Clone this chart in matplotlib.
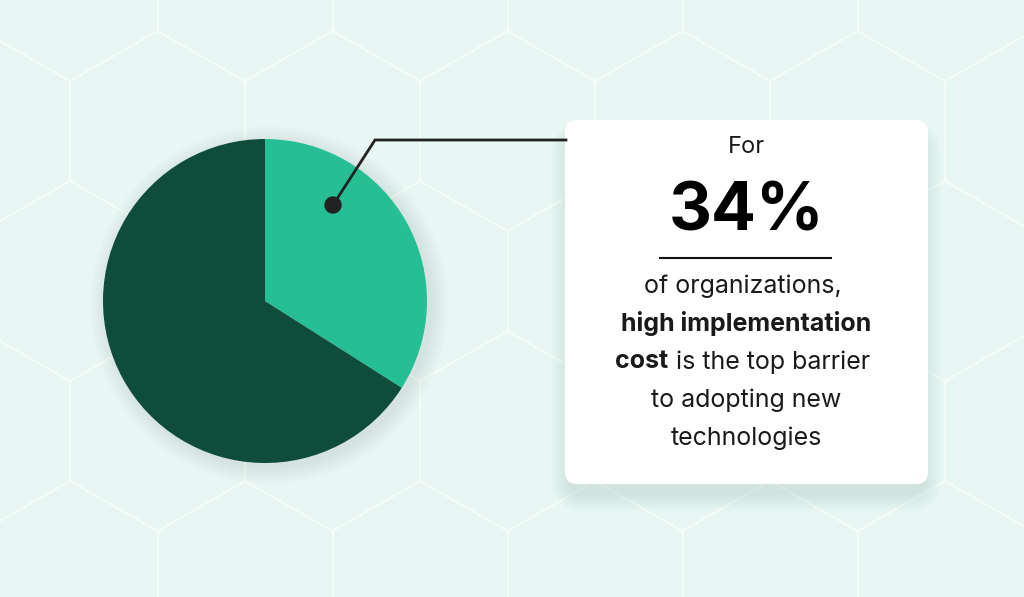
import numpy as np
import matplotlib
matplotlib.use("Agg")
import matplotlib.pyplot as plt
from matplotlib.patches import FancyBboxPatch, Circle
from matplotlib.collections import LineCollection

W, H = 1024, 597

# data
slice_labels = ["high implementation cost", "other barriers"]
slice_shares = [34, 66]
slice_colors = ["#26BF93", "#0F4C3A"]
headline = "34%"

BG = "#E8F7F3"
HEX_LINE = "#F4FCFA"
FONT = ["Inter", "DejaVu Sans"]


def py(y):
    # pixel row measured from the top -> data y
    return H - y


fig = plt.figure(figsize=(W / 100, H / 100), dpi=100)
fig.patch.set_facecolor(BG)
ax = fig.add_axes([0, 0, 1, 1])
ax.set_xlim(0, W)
ax.set_ylim(0, H)
ax.axis("off")

# hexagon background grid (pointy top, side 100)
s = 100.0
dx = 175.0
segs = []
for row in range(-1, 6):
    top = -69 + row * 150
    x0 = 157.5 if row % 2 == 0 else 70.0
    for k in range(-2, 8):
        x = x0 + k * dx
        segs.append([(x, py(top)), (x, py(top + s))])
        segs.append([(x, py(top + s)), (x + dx / 2, py(top + s + 50))])
        segs.append([(x, py(top + s)), (x - dx / 2, py(top + s + 50))])
ax.add_collection(LineCollection(segs, colors=HEX_LINE, linewidths=1.6, zorder=0))

# soft glow behind the pie
cx, cy, r = 265, 301, 162
for i in range(10):
    ax.add_patch(Circle((cx + 4, py(cy) - 4), r + 1 + i * 1.8, color="#7a9a92",
                        alpha=0.014, lw=0, zorder=1))

ax.pie(slice_shares, colors=slice_colors, startangle=90, counterclock=False,
       center=(cx, py(cy)), radius=r, frame=True,
       wedgeprops=dict(linewidth=0))
ax.set_xlim(0, W)
ax.set_ylim(0, H)
ax.set_aspect("auto")
ax.axis("off")

# connector line with dot
ax.plot([333, 375, 566], [py(205), py(140), py(140)], color="#222222", lw=2,
        solid_joinstyle="miter", zorder=5)
ax.add_patch(Circle((333, py(205)), 8, color="#222222", zorder=6))

# card with shadow
bx0, by0, bx1, by1 = 565, 120, 928, 484
for i in range(10):
    grow = 1 + i * 1.8
    ax.add_patch(FancyBboxPatch((bx0 - grow + 4, py(by1) - grow - 10),
                                bx1 - bx0 + 2 * grow - 8, by1 - by0 + 2 * grow - 10,
                                boxstyle="round,pad=0,rounding_size=%f" % (14 + grow),
                                fc="#5f7d76", ec="none", alpha=0.017, zorder=3))
ax.add_patch(FancyBboxPatch((bx0, py(by1)), bx1 - bx0, by1 - by0,
                            boxstyle="round,pad=0,rounding_size=12",
                            fc="white", ec="none", zorder=4))

tx = (bx0 + bx1) / 2
ax.text(tx, py(147), "For", ha="center", va="center", fontsize=17,
        family=FONT, color="#1a1a1a", zorder=7)
ax.text(tx, py(213), headline, ha="center", va="center", fontsize=48,
        family=FONT, weight="bold", color="#000000", zorder=7)
ax.plot([660, 831], [py(258), py(258)], color="#111111", lw=1.5, zorder=7)

body = dict(ha="center", va="center", fontsize=18, family=FONT,
            color="#1a1a1a", zorder=7)
ax.text(tx - 4, py(286), "of organizations,", **body)
ax.text(tx, py(324), "high implementation", weight="bold", **body)
ax.text(tx, py(400), "to adopting new", **body)
ax.text(tx, py(438), "technologies", **body)

# mixed weight line
renderer = fig.canvas.get_renderer()
t1 = ax.text(0, py(362), "cost", weight="bold", **{**body, "ha": "left"})
t2 = ax.text(0, py(362), " is the top barrier", **{**body, "ha": "left"})
w1 = t1.get_window_extent(renderer).width
w2 = t2.get_window_extent(renderer).width
start = tx - 4 - (w1 + w2) / 2
t1.set_x(start)
t2.set_x(start + w1)

fig.savefig("out.png", dpi=100, facecolor=BG)
